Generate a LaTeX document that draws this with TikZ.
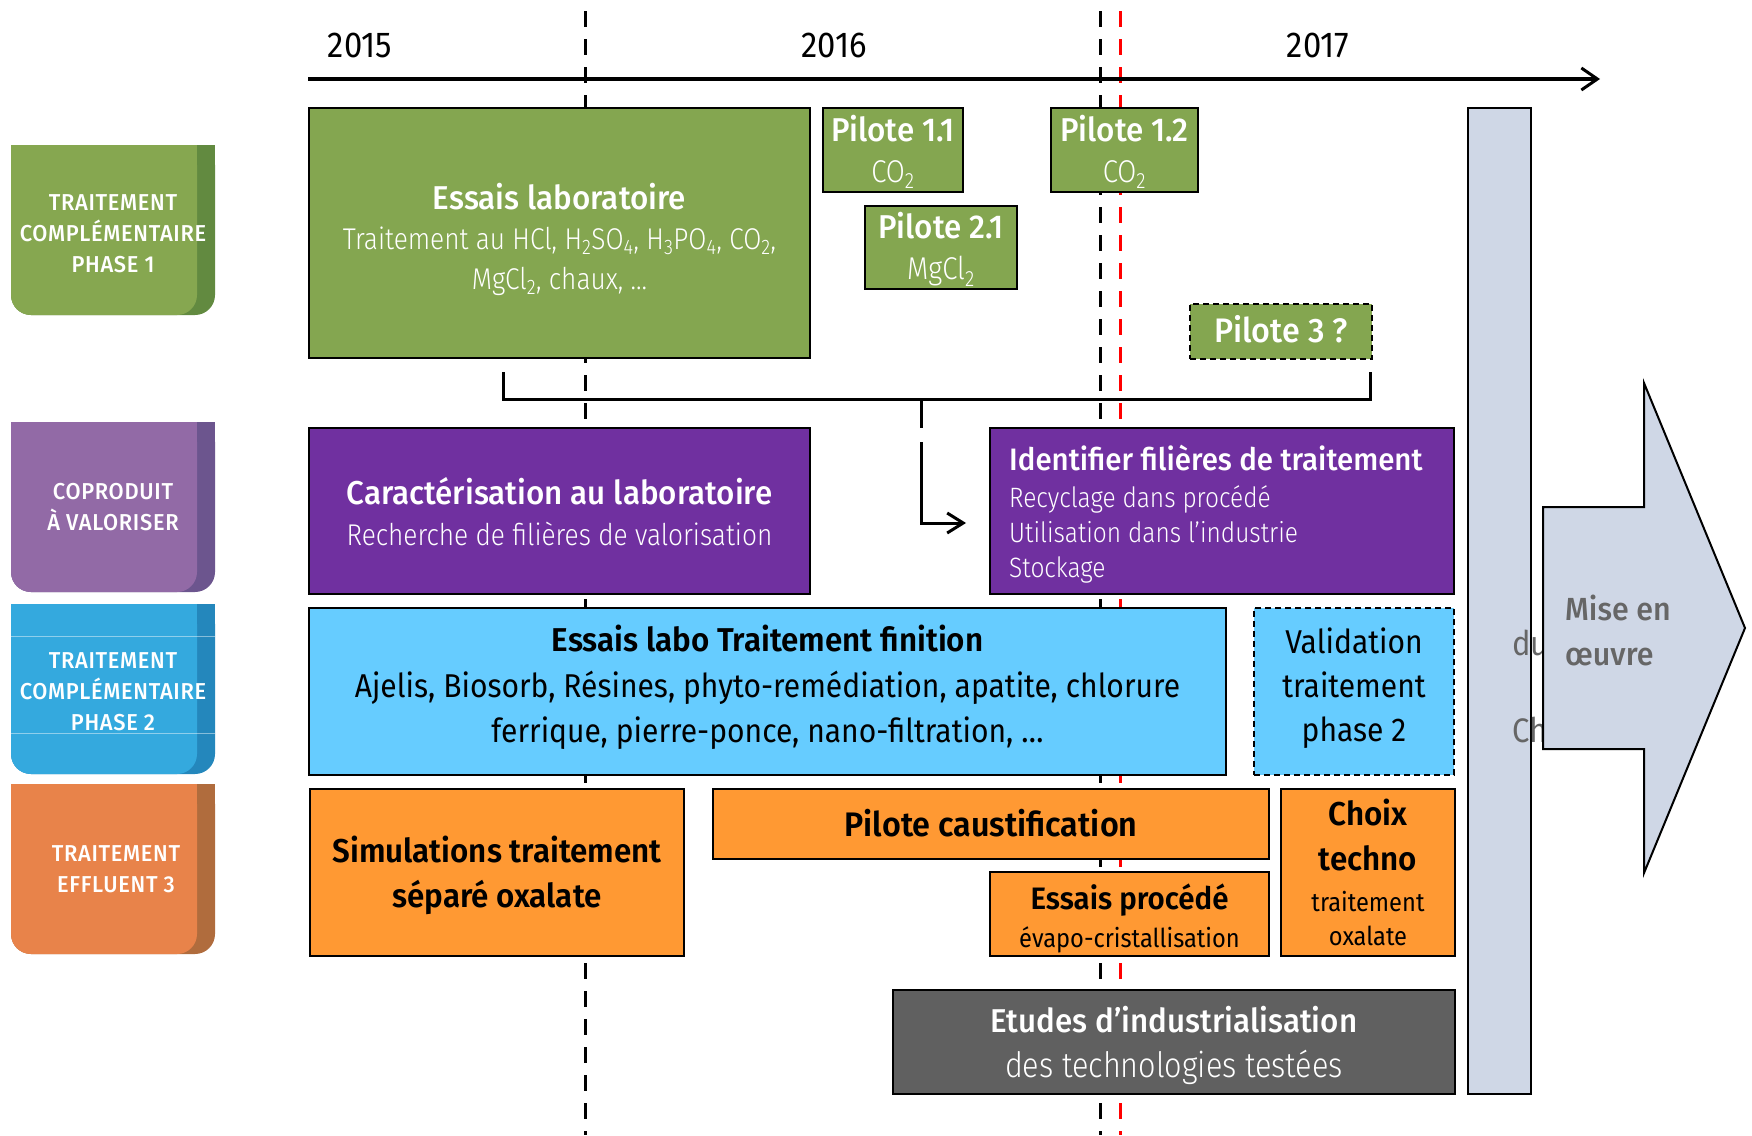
\documentclass[tikz,border=0pt]{standalone}
\usepackage{fontspec}
\usetikzlibrary{arrows.meta}
\setmainfont{Fira Sans}[FakeStretch=0.91]
\IfFontExistsTF{Fira Sans Light}{\newfontfamily\lightf{Fira Sans Light}[FakeStretch=0.875]}{\newfontfamily\lightf{Fira Sans}[FakeStretch=0.875]}
\IfFontExistsTF{Fira Sans Medium}{\newfontfamily\medf{Fira Sans Medium}[FakeStretch=0.95]\newfontfamily\tabf{Fira Sans Medium}[FakeStretch=0.95,LetterSpace=3]}{\newfontfamily\medf{Fira Sans}[FakeStretch=0.95]\newfontfamily\tabf{Fira Sans}[FakeStretch=0.95,LetterSpace=3]}
\IfFontExistsTF{Fira Sans SemiBold}{\newfontfamily\semif{Fira Sans SemiBold}[FakeStretch=0.95]}{\newcommand\semif{\bfseries}}
\newcommand\fsz[2]{\fontsize{#1}{#2}\selectfont}
\definecolor{gbox}{RGB}{132,166,80}
\definecolor{tabg}{RGB}{134,167,80}
\definecolor{tabgd}{RGB}{98,138,64}
\definecolor{purp}{RGB}{112,48,160}
\definecolor{tabp}{RGB}{146,106,166}
\definecolor{tabpd}{RGB}{108,85,142}
\definecolor{lblue}{RGB}{102,204,255}
\definecolor{tabb}{RGB}{52,169,222}
\definecolor{tabbd}{RGB}{36,135,188}
\definecolor{orng}{RGB}{255,153,51}
\definecolor{tabo}{RGB}{232,131,74}
\definecolor{tabod}{RGB}{176,108,61}
\definecolor{dgray}{RGB}{96,96,96}
\definecolor{barc}{RGB}{207,215,230}
\definecolor{txtg}{RGB}{102,102,102}
\newcommand\drawtab[4]{%
  \fill[#4, rounded corners=20pt] (11,#1) rectangle (215,#2);
  \fill[#4] (11,#1) rectangle (215,{#1+40});
  \fill[#3, rounded corners=20pt] (11,#1) rectangle (197,#2);
  \fill[#3] (11,#1) rectangle (197,{#1+40});
}
\begin{document}
\begin{tikzpicture}[x=1pt,y=-1pt,
  bx/.style={draw=black, line width=2pt, inner sep=0pt, anchor=north west},
  dbx/.style={bx, dash pattern=on 6pt off 4pt},
  txt/.style={align=center, inner sep=0pt},
  tl/.style={text=white, align=center, font=\tabf\fsz{23}{31}},
  vdash/.style={line width=3pt, dash pattern=on 16pt off 12pt},
  conn/.style={line width=3pt},
  chev/.style={-{Straight Barb[length=16pt,width=20pt,line width=3pt]}}
]
\useasboundingbox[fill=white] (0,0) rectangle (1752,1135);

% category tabs
\drawtab{145}{315}{tabg}{tabgd}
\drawtab{422}{592}{tabp}{tabpd}
\drawtab{604}{774}{tabb}{tabbd}
\drawtab{784}{954}{tabo}{tabod}
\draw[white, opacity=0.45, line width=0.8pt] (11,636) -- (215,636) (11,733) -- (215,733);
\node[tl] (tab1) at (113,234) {TRAITEMENT\\COMPLÉMENTAIRE\\PHASE 1};
\node[tl] (tab2) at (113,507) {COPRODUIT\\À VALORISER};
\node[tl] (tab3) at (113,692) {TRAITEMENT\\COMPLÉMENTAIRE\\PHASE 2};
\node[tl] (tab4) at (116,869) {TRAITEMENT\\EFFLUENT 3};

% timeline
\node[font=\fsz{36}{40}] (y15) at (360,45) {2015};
\node[font=\fsz{36}{40}] (y16) at (834,45) {2016};
\node[font=\fsz{36}{40}] (y17) at (1318,45) {2017};
\coordinate (da1) at (585,11);  \coordinate (db1) at (585,1135);
\coordinate (da2) at (1100,11); \coordinate (db2) at (1100,1135);
\coordinate (da3) at (1120,11); \coordinate (db3) at (1120,1135);
\draw[vdash] (da1) -- (db1);
\draw[vdash] (da2) -- (db2);
\draw[vdash, red] (da3) -- (db3);
\coordinate (ta) at (308,79); \coordinate (tb) at (1600,79);
\draw[line width=4pt, -{Straight Barb[length=16pt,width=22pt,line width=3pt]}] (ta) -- (tb);

% bracket and connector
\coordinate (bl) at (503,372); \coordinate (blc) at (503,399);
\coordinate (brc) at (1370,399); \coordinate (br) at (1370,372);
\draw[conn] (bl) -- (blc) -- (brc) -- (br);
\coordinate (bm) at (921,399); \coordinate (bm1) at (921,428);
\coordinate (bm2) at (921,442); \coordinate (bm3) at (921,523); \coordinate (bend) at (966,523);
\draw[conn] (bm) -- (bm1);
\draw[conn, chev] (bm2) -- (bm3) -- (bend);

% phase 1 boxes
\node[bx, fill=gbox, minimum width=501pt, minimum height=250pt] (lab) at (308,107) {};
\node[txt, text=white, font=\lightf\fsz{30}{40}] (labt) at ([yshift=-6pt]lab.center)
  {{\medf\fsz{33}{40}Essais laboratoire}\\Traitement au HCl, H\textsubscript{2}SO\textsubscript{4}, H\textsubscript{3}PO\textsubscript{4}, CO\textsubscript{2},\\MgCl\textsubscript{2}, chaux, …};
\node[bx, fill=gbox, minimum width=140pt, minimum height=84pt] (p11) at (822,107) {};
\node[txt, text=white, font=\lightf\fsz{31.5}{41}] (p11t) at ([yshift=-2pt]p11.center)
  {{\medf\fsz{33}{41}Pilote 1.1}\\CO\textsubscript{2}};
\node[bx, fill=gbox, minimum width=152pt, minimum height=83pt] (p21) at (864,205) {};
\node[txt, text=white, font=\lightf\fsz{31.5}{41}] (p21t) at ([yshift=-2pt]p21.center)
  {{\medf\fsz{33}{41}Pilote 2.1}\\MgCl\textsubscript{2}};
\node[bx, fill=gbox, minimum width=147pt, minimum height=84pt] (p12) at (1050,107) {};
\node[txt, text=white, font=\lightf\fsz{31.5}{41}] (p12t) at ([yshift=-2pt]p12.center)
  {{\medf\fsz{33}{41}Pilote 1.2}\\CO\textsubscript{2}};
\node[dbx, fill=gbox, minimum width=182pt, minimum height=55pt] (p3) at (1189,303) {};
\node[txt, text=white, font=\medf\fsz{34}{40}] (p3t) at ([yshift=2pt]p3.center) {Pilote 3 ?};

% coproduit boxes
\node[bx, fill=purp, minimum width=501pt, minimum height=166pt] (car) at (308,427) {};
\node[txt, text=white, font=\lightf\fsz{30}{41}] (cart) at ([yshift=-1pt]car.center)
  {{\medf\fsz{33}{41}Caractérisation au laboratoire}\\Recherche de filières de valorisation};
\node[bx, fill=purp, minimum width=464pt, minimum height=166pt] (ident) at (989,427) {};
\node[anchor=base west, text=white, font=\medf\fsz{31}{35}, inner sep=0pt] (id1) at (1009,470) {Identifier filières de traitement};
\node[anchor=base west, text=white, font=\lightf\fsz{28}{35}, inner sep=0pt] (id2) at (1009,507) {Recyclage dans procédé};
\node[anchor=base west, text=white, font=\lightf\fsz{28}{35}, inner sep=0pt] (id3) at (1009,542) {Utilisation dans l’industrie};
\node[anchor=base west, text=white, font=\lightf\fsz{28}{35}, inner sep=0pt] (id4) at (1009,577) {Stockage};

% phase 2 boxes
\node[bx, fill=lblue, minimum width=917pt, minimum height=167pt] (fin) at (308,607) {};
\node[txt, font=\fsz{33}{45.5}] (fint) at ([yshift=4pt]fin.center)
  {{\semif\fsz{33}{45.5}Essais labo Traitement finition}\\Ajelis, Biosorb, Résines, phyto-remédiation, apatite, chlorure\\ferrique, pierre-ponce, nano-filtration, …};
\node[dbx, fill=lblue, minimum width=200pt, minimum height=167pt] (val) at (1253,607) {};
\node[txt, font=\fsz{33}{44}] (valt) at ([yshift=3pt]val.center) {Validation\\traitement\\phase 2};

% effluent boxes
\node[bx, fill=orng, minimum width=374pt, minimum height=167pt] (sim) at (309,788) {};
\node[txt, font=\semif\fsz{33}{45}] (simt) at ([yshift=-3pt]sim.center) {Simulations traitement\\séparé oxalate};
\node[bx, fill=orng, minimum width=556pt, minimum height=70pt] (caus) at (712,788) {};
\node[txt, font=\semif\fsz{34}{40}] (caust) at ([yshift=1pt]caus.center) {Pilote caustification};
\node[bx, fill=orng, minimum width=279pt, minimum height=84pt] (proc) at (989,871) {};
\node[txt, font=\fsz{26}{38}] (proct) at ([yshift=-4pt]proc.center)
  {{\semif\fsz{31}{38}Essais procédé}\\évapo-cristallisation};
\node[bx, fill=orng, minimum width=174pt, minimum height=167pt] (choix) at (1280,788) {};
\node[txt, font=\fsz{26}{34}] (choixt) at (choix.center)
  {{\semif\fsz{33}{34}Choix}\\[11pt]{\semif\fsz{33}{34}techno}\\[7pt]traitement\\oxalate};

% industrialisation
\node[bx, fill=dgray, minimum width=562pt, minimum height=104pt] (etud) at (892,989) {};
\node[txt, text=white, font=\lightf\fsz{35}{45}] (etudt) at ([yshift=-3pt]etud.center)
  {{\medf\fsz{33}{45}Etudes d’industrialisation}\\des technologies testées};

% final bar and arrow
\node[draw=black, line width=1.5pt, fill=barc, minimum width=63pt, minimum height=986pt, anchor=north west, inner sep=0pt] (bar) at (1467,107) {};
\node[font=\fsz{34}{34}, text=txtg, anchor=west, inner sep=0pt] (du) at (1512,643) {du};
\node[font=\fsz{34}{34}, text=txtg, anchor=west, inner sep=0pt] (ch) at (1512,730) {Ch};
\draw[fill=barc, line width=2pt] (1543,507) -- (1644,507) -- (1644,383) -- (1745,628) -- (1644,873) -- (1644,749) -- (1543,749) -- cycle;
\node[font=\medf\fsz{32}{45}, text=txtg, anchor=west, align=left, inner sep=0pt] (mise) at (1565,630) {Mise en\\œuvre};
\end{tikzpicture}
\end{document}
